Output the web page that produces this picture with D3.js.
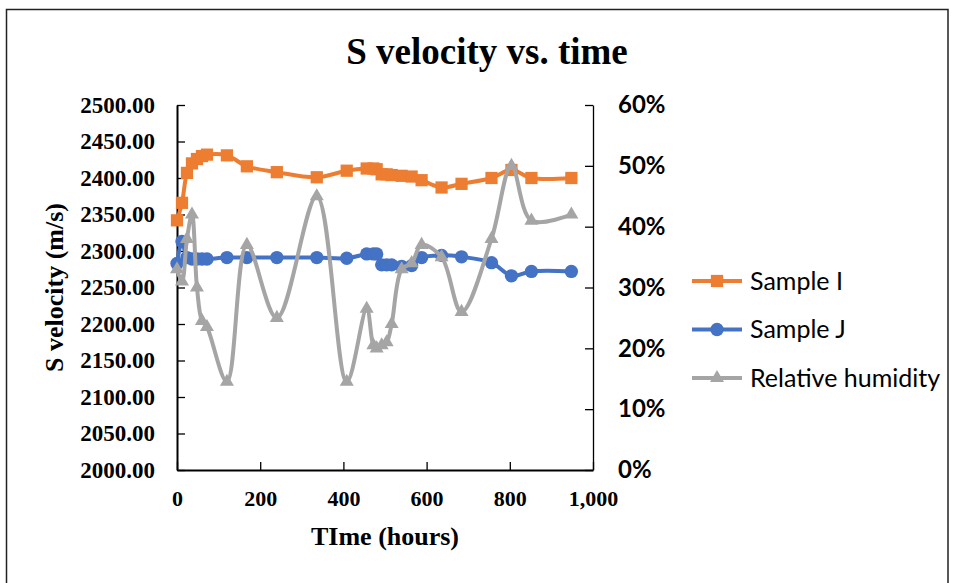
<!DOCTYPE html>
<html>
<head>
<meta charset="utf-8">
<script src="https://cdn.jsdelivr.net/npm/d3@7"></script>
<style>
    body {margin: 0; background: #fff;}
    .serif {font-family: "Liberation Serif", "Times New Roman", serif; font-weight: bold;}
    .sans {font-family: Lato, "Open Sans", sans-serif;}
</style>
</head>
<body>
<svg id="chart"></svg>
<script>
// time in hours, shared by the three series
const hours = [0, 12, 24, 36, 48, 60, 72, 120, 168, 240, 336, 408, 456, 472, 480, 492, 504, 516, 540, 564, 588, 636, 684, 756, 804, 852, 948];
const sampleI = [2342, 2366, 2407, 2420, 2426, 2430, 2432, 2431, 2416, 2408, 2401, 2410, 2413, 2413, 2412, 2405, 2405, 2404, 2403, 2402, 2397, 2387, 2392, 2400, 2411, 2400, 2400];
const sampleJ = [2283, 2313, 2291, 2289, 2289, 2289, 2289, 2291, 2291, 2291, 2291, 2290, 2296, 2296, 2296, 2281, 2281, 2281, 2279, 2280, 2291, 2294, 2292, 2284, 2266, 2272, 2272];
const humidity = [0.33, 0.31, 0.38, 0.42, 0.30, 0.245, 0.235, 0.145, 0.37, 0.25, 0.45, 0.145, 0.265, 0.205, 0.20, 0.205, 0.21, 0.24, 0.33, 0.34, 0.37, 0.35, 0.26, 0.38, 0.50, 0.41, 0.42];

const hourTicks = [0, 200, 400, 600, 800, 1000];
const velocityTicks = [2000, 2050, 2100, 2150, 2200, 2250, 2300, 2350, 2400, 2450, 2500];
const humidityTicks = [0, 0.1, 0.2, 0.3, 0.4, 0.5, 0.6];

const seriesNames = ['Sample I', 'Sample J', 'Relative humidity'];
const seriesColors = ['#ED7D31', '#4472C4', '#A5A5A5'];

let graphicopt = {
    width: 957,
    height: 583,
    plot: {left: 177, right: 593, top: 105, bottom: 470}
};

let svg = d3.select('#chart')
    .attr('width', graphicopt.width)
    .attr('height', graphicopt.height);

// outer chart border
svg.append('rect')
    .attr('x', 6.5).attr('y', 9.5)
    .attr('width', 941.5).attr('height', 620)
    .style('fill', 'none')
    .style('stroke', '#222')
    .style('stroke-width', 1.5);

let x = d3.scaleLinear()
    .domain([0, 1000])
    .range([graphicopt.plot.left, graphicopt.plot.right]);
let y = d3.scaleLinear()
    .domain([2000, 2500])
    .range([graphicopt.plot.bottom, graphicopt.plot.top]);
let y2 = d3.scaleLinear()
    .domain([0, 0.6])
    .range([graphicopt.plot.bottom, graphicopt.plot.top]);

svg.append('text')
    .attr('class', 'serif')
    .attr('x', 487).attr('y', 64)
    .style('text-anchor', 'middle')
    .style('font-size', '37px')
    .text('S velocity vs. time');

// axes (ticks point inward like the original)
let gx = svg.append('g')
    .attr('class', 'x axis serif')
    .attr('transform', `translate(0,${graphicopt.plot.bottom})`)
    .call(d3.axisBottom(x).tickValues(hourTicks).tickFormat(d3.format(',')).tickSizeInner(-8).tickSizeOuter(0).tickPadding(20));

let gy = svg.append('g')
    .attr('class', 'y axis serif')
    .attr('transform', `translate(${graphicopt.plot.left},0)`)
    .call(d3.axisLeft(y).tickValues(velocityTicks).tickFormat(d3.format('.2f')).tickSizeInner(-8).tickSizeOuter(0).tickPadding(22));

let gy2 = svg.append('g')
    .attr('class', 'y2 axis sans')
    .attr('transform', `translate(${graphicopt.plot.right},0)`)
    .call(d3.axisRight(y2).tickValues(humidityTicks).tickFormat(d3.format('.0%')).tickSizeInner(-8).tickSizeOuter(0).tickPadding(25));

svg.selectAll('.axis text').style('font-size', '23px').style('fill', '#000');
svg.selectAll('.x text').style('font-size', '22px');
svg.selectAll('.y2 text').style('font-weight', 'bold').style('font-size', '24px');
svg.selectAll('.axis .domain').style('stroke', '#000').style('stroke-width', 2);
svg.selectAll('.y2 .domain').style('stroke-width', 1.3);
svg.selectAll('.axis .tick line').style('stroke', '#000').style('stroke-width', 1.3);

svg.append('text')
    .attr('class', 'serif')
    .attr('transform', `translate(63,${(graphicopt.plot.top + graphicopt.plot.bottom) / 2}) rotate(-90)`)
    .style('text-anchor', 'middle')
    .style('font-size', '26px')
    .text('S velocity (m/s)');

svg.append('text')
    .attr('class', 'serif')
    .attr('x', (graphicopt.plot.left + graphicopt.plot.right) / 2)
    .attr('y', 545)
    .style('text-anchor', 'middle')
    .style('font-size', '26px')
    .text('TIme (hours)');

// series
let series = [
    {name: seriesNames[0], values: sampleI, scale: y, symbol: d3.symbolSquare, size: 150},
    {name: seriesNames[1], values: sampleJ, scale: y, symbol: d3.symbolCircle, size: 140},
    {name: seriesNames[2], values: humidity, scale: y2, symbol: d3.symbolTriangle, size: 85}
];
series.forEach((s, i) => s.color = seriesColors[i]);

let maing = svg.append('g').attr('class', 'main');

let serie_g = maing.selectAll('.serie')
    .data(series)
    .enter()
    .append('g')
    .attr('class', 'serie');

serie_g.append('path')
    .attr('d', s => d3.line()
        .x((d, i) => x(hours[i]))
        .y(d => s.scale(d))
        .curve(d3.curveCatmullRom.alpha(0.5))(s.values))
    .style('fill', 'none')
    .style('stroke', s => s.color)
    .style('stroke-width', 4)
    .style('stroke-linejoin', 'round');

serie_g.each(function(s) {
    d3.select(this).selectAll('.marker')
        .data(s.values)
        .enter()
        .append('path')
        .attr('class', 'marker')
        .attr('transform', (d, i) => `translate(${x(hours[i])},${s.scale(d)})`)
        .attr('d', d3.symbol(s.symbol, s.size))
        .style('fill', s.color);
});

// legend
let legend = svg.append('g')
    .attr('class', 'legend sans')
    .attr('transform', 'translate(692,281)');

let legend_item = legend.selectAll('.item')
    .data(series)
    .enter()
    .append('g')
    .attr('class', 'item')
    .attr('transform', (d, i) => `translate(0,${i * 48.5})`);

legend_item.append('line')
    .attr('x1', 0).attr('x2', 50)
    .style('stroke', d => d.color)
    .style('stroke-width', 4);
legend_item.append('path')
    .attr('transform', 'translate(25,0)')
    .attr('d', d => d3.symbol(d.symbol, d.size)())
    .style('fill', d => d.color);
legend_item.append('text')
    .attr('x', 58)
    .attr('dy', '0.35em')
    .style('font-size', '25px')
    .style('fill', '#000')
    .text(d => d.name);
</script>
</body>
</html>
